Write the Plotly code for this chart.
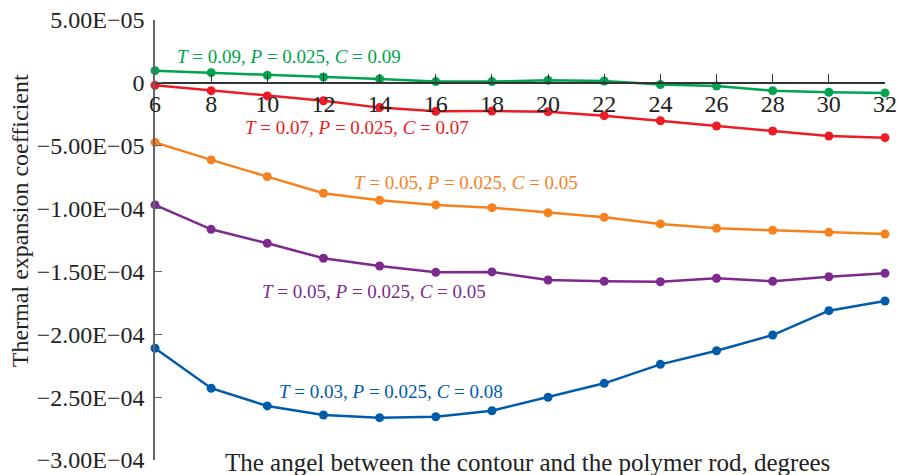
import plotly.graph_objects as go

# angle between contour and polymer rod, degrees
angles = [6, 8, 10, 12, 14, 16, 18, 20, 22, 24, 26, 28, 30, 32]

# thermal expansion coefficient
green_vals = [9.7e-6, 8.1e-6, 6.0e-6, 4.7e-6, 3.1e-6, 1.0e-6, 1.0e-6, 2.1e-6, 1.5e-6,
              -1.4e-6, -2.5e-6, -6.2e-6, -7.5e-6, -8.0e-6]
red_vals = [-1.9e-6, -6.2e-6, -10.4e-6, -14.2e-6, -19.7e-6, -22.6e-6, -22.4e-6, -22.9e-6,
            -26.1e-6, -30.1e-6, -34.3e-6, -38.3e-6, -42.3e-6, -43.6e-6]
orange_vals = [-47.3e-6, -61.3e-6, -74.6e-6, -87.8e-6, -93.4e-6, -97.1e-6, -99.3e-6,
               -103.3e-6, -106.9e-6, -112.2e-6, -115.7e-6, -117.3e-6, -118.9e-6, -120.2e-6]
purple_vals = [-97.1e-6, -116.5e-6, -127.6e-6, -139.5e-6, -145.7e-6, -150.7e-6, -150.4e-6,
               -156.8e-6, -157.8e-6, -158.2e-6, -155.4e-6, -157.8e-6, -154.2e-6, -151.5e-6]
blue_vals = [-211.1e-6, -242.9e-6, -257.0e-6, -264.2e-6, -266.3e-6, -265.6e-6, -260.8e-6,
             -250.1e-6, -239.0e-6, -223.9e-6, -213.1e-6, -200.6e-6, -181.2e-6, -173.5e-6]

series_labels = [
    "<i>T</i> = 0.09, <i>P</i> = 0.025, <i>C</i> = 0.09",
    "<i>T</i> = 0.07, <i>P</i> = 0.025, <i>C</i> = 0.07",
    "<i>T</i> = 0.05, <i>P</i> = 0.025, <i>C</i> = 0.05",
    "<i>T</i> = 0.05, <i>P</i> = 0.025, <i>C</i> = 0.05",
    "<i>T</i> = 0.03, <i>P</i> = 0.025, <i>C</i> = 0.08",
]

y_tickvals = [5e-5, 0, -5e-5, -1e-4, -1.5e-4, -2e-4, -2.5e-4, -3e-4]
y_ticktext = ["5.00E\u221205", "0", "\u22125.00E\u221205", "\u22121.00E\u221204",
              "\u22121.50E\u221204", "\u22122.00E\u221204", "\u22122.50E\u221204",
              "\u22123.00E\u221204"]

colors = ["#00a34f", "#ec1c24", "#f5821f", "#7d2a8e", "#005bab"]
# label anchor points (data coords) for each curve's text
label_pos = [(10.77, 20.6e-6), (13.19, -35.9e-6), (17.08, -79.6e-6),
             (13.8, -166.3e-6), (14.4, -245.8e-6)]

font = "Liberation Serif, Times New Roman, serif"

fig = go.Figure()
all_vals = [green_vals, red_vals, orange_vals, purple_vals, blue_vals]
for vals, col in zip(all_vals, colors):
    fig.add_trace(go.Scatter(x=angles, y=vals, mode="lines+markers",
                             line=dict(color=col, width=2.5),
                             marker=dict(color=col, size=9),
                             cliponaxis=False, showlegend=False))

for (lx, ly), txt, col in zip(label_pos, series_labels, colors):
    fig.add_annotation(x=lx, y=ly, xref="x", yref="y", text=txt, showarrow=False,
                       font=dict(family=font, size=19, color=col))

fig.add_annotation(x=0.51, y=-0.006, xref="paper", yref="paper",
                   text="The angel between the contour and the polymer rod, degrees",
                   showarrow=False, xanchor="center", yanchor="middle",
                   font=dict(family=font, size=25, color="#222"))
fig.add_annotation(x=-0.185, y=0.545, xref="paper", yref="paper",
                   text="Thermal expansion coefficient", textangle=-90,
                   showarrow=False, xanchor="center", yanchor="middle",
                   font=dict(family=font, size=24, color="#222"))

fig.update_layout(
    width=898, height=475,
    margin=dict(l=155, r=13, t=20, b=15, autoexpand=False),
    plot_bgcolor="white", paper_bgcolor="white",
    font=dict(family=font, size=24, color="#222"),
    xaxis=dict(range=[6, 32], tickvals=angles, showgrid=False, zeroline=False,
               showline=True, linecolor="#333", linewidth=1.5,
               ticks="inside", ticklen=8, tickcolor="#333",
               anchor="free", position=0.3 / 0.35, automargin=False,
               tickfont=dict(family=font, size=24, color="#222")),
    yaxis=dict(range=[-3e-4, 5e-5], tickvals=y_tickvals, ticktext=y_ticktext,
               showgrid=False, zeroline=False, showline=True, linecolor="#666",
               linewidth=1.5, ticks="inside", ticklen=7, tickcolor="#666",
               ticklabelstandoff=4, automargin=False,
               tickfont=dict(family=font, size=24, color="#222")),
)

# drop the default body margin so the figure fills the window
fig.write_html("out.html", config={"displayModeBar": False},
               post_script="document.body.style.margin='0';")
